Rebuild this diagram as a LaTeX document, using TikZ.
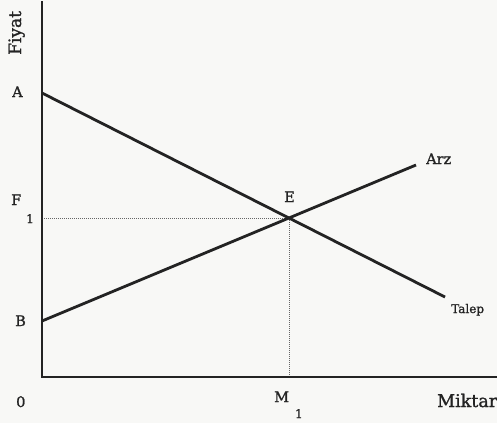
\documentclass[tikz,border=0pt]{standalone}
\usepackage{fontspec}
\setmainfont{DejaVu Serif}[BoldFont={DejaVu Serif},BoldFeatures={FakeBold=1.3}]
\definecolor{ink}{RGB}{35,35,35}
\definecolor{paper}{RGB}{248,248,246}
\begin{document}
\begin{tikzpicture}[x=1pt,y=-1pt,
  axisline/.style={draw=ink,line width=1.7pt},
  curve/.style={draw=ink,line width=2.8pt},
  guide/.style={draw=ink!70,line width=0.7pt,dash pattern=on 1pt off 1pt},
  lbl/.style={inner sep=0pt,anchor=base west,text=ink,font=\bfseries\fontsize{14.5}{16}\selectfont},
  small/.style={inner sep=0pt,anchor=base west,text=ink,font=\bfseries\fontsize{12}{14}\selectfont}]
\fill[paper] (0,0) rectangle (497,423);
\useasboundingbox (0,0) rectangle (497,423);
\coordinate (O) at (42,377);
\coordinate (top) at (42,1);
\coordinate (right) at (497,377);
\coordinate (A) at (42,93);
\coordinate (Tend) at (445,297);
\coordinate (B) at (42,321);
\coordinate (Send) at (416,165);
\coordinate (E) at (intersection of A--Tend and B--Send);
\coordinate (F) at (E -| O);
\coordinate (M) at (E |- O);
\draw[guide] (F) -- (E);
\draw[guide] (M) -- (E);
\draw[axisline] (top) -- (O) -- (right);
\draw[curve] (A) -- (Tend);
\draw[curve] (B) -- (Send);
\node[lbl,rotate=90,font=\bfseries\fontsize{17}{18}\selectfont] (fiyat) at (21,55) {Fiyat};
\node[lbl] (la) at (12,97) {A};
\node[lbl] (lb) at (15,326) {B};
\node[lbl] (l0) at (16,407) {0};
\node[lbl] (lf) at (11,205) {F\hspace{5pt}\raisebox{-18pt}{\fontsize{12}{14}\selectfont 1}};
\node[lbl] (lm) at (274,402) {M\hspace{6pt}\raisebox{-16pt}{\fontsize{12}{14}\selectfont 1}};
\node[lbl] (le) at (284,202) {E};
\node[lbl] (larz) at (426,164) {Arz};
\node[small] (ltalep) at (451,313) {Talep};
\node[lbl,font=\bfseries\fontsize{17.5}{18}\selectfont] (lmiktar) at (437,407) {Miktar};
\end{tikzpicture}
\end{document}
